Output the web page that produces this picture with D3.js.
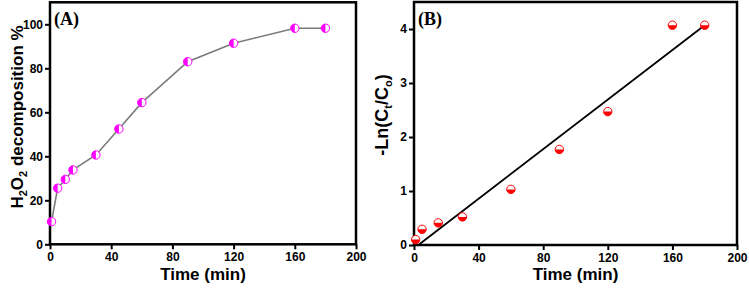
<!DOCTYPE html>
<html lang="en">
<head>
<meta charset="UTF-8">
<title>H2O2 decomposition and kinetics</title>
<script src="https://d3js.org/d3.v7.min.js"></script>
<style>
    body { margin: 0; background: #fff; }
    svg { display: block; font-family: "Liberation Sans", Arial, sans-serif; }
    .tick text { font-family: "Liberation Sans", Arial, sans-serif; font-size: 12px; font-weight: bold; fill: #000; }
    .tick line { stroke: #000; stroke-width: 2; }
    .axis-title { font-family: "Liberation Sans", Arial, sans-serif; font-size: 17px; font-weight: bold; }
    .panel-tag { font-family: "Liberation Serif", "Times New Roman", serif; font-size: 18px; font-weight: bold; }
</style>
</head>
<body>
<svg id="chart" width="749" height="291"></svg>
<script>
// time points (min)
const timeA = [1, 5, 10, 15, 30, 45, 60, 90, 120, 160, 180];
const decompA = [10.3, 25.5, 29.5, 33.8, 40.6, 52.4, 64.4, 83.0, 91.4, 98.2, 98.2];

const timeB = [1, 5, 15, 30, 60, 90, 120, 160, 180];
const lnB = [0.1, 0.29, 0.41, 0.52, 1.03, 1.77, 2.47, 4.07, 4.07];

// linear fit of panel B
const fitSlope = 0.02296;
const fitIntercept = -0.062;

const xTicks = [0, 40, 80, 120, 160, 200];
const yTicksA = [0, 20, 40, 60, 80, 100];
const yTicksB = [0, 1, 2, 3, 4];

const svg = d3.select("#chart");

function halfMarker(g, cx, cy, r, color, side) {
    // side: "left" -> left half filled, "bottom" -> bottom half filled
    g.append("circle").attr("cx", cx).attr("cy", cy).attr("r", r)
        .attr("fill", "#fff").attr("stroke", color).attr("stroke-width", 1);
    let path;
    if (side === "left") {
        path = `M${cx},${cy - r} A${r},${r} 0 0 0 ${cx},${cy + r} Z`;
    } else {
        path = `M${cx - r},${cy} A${r},${r} 0 0 0 ${cx + r},${cy} Z`;
    }
    g.append("path").attr("d", path).attr("fill", color);
}

function panel(opt) {
    const g = svg.append("g");
    const x = d3.scaleLinear().domain([0, 200]).range([opt.left, opt.right]);
    const y = d3.scaleLinear().domain(opt.yDomain).range([opt.bottom, opt.top]);

    const xAxis = g.append("g").attr("transform", `translate(0,${opt.bottom})`)
        .call(d3.axisBottom(x).tickValues(xTicks).tickSize(5).tickPadding(3).tickFormat(d3.format("d")));
    xAxis.select(".domain").remove();

    const yAxis = g.append("g").attr("transform", `translate(${opt.left},0)`)
        .call(d3.axisLeft(y).tickValues(opt.yTicks).tickSize(5).tickPadding(2).tickFormat(d3.format("d")));
    yAxis.select(".domain").remove();

    g.append("rect")
        .attr("x", opt.left).attr("y", opt.top)
        .attr("width", opt.right - opt.left).attr("height", opt.bottom - opt.top)
        .attr("fill", "none").attr("stroke", "#000").attr("stroke-width", 2.5);

    g.append("text").attr("class", "axis-title")
        .attr("x", (opt.left + opt.right) / 2).attr("y", 280)
        .attr("text-anchor", "middle").text("Time (min)");

    g.append("text").attr("class", "panel-tag")
        .attr("x", opt.left + 4).attr("y", 25).text(opt.tag);

    return {g, x, y};
}

// Panel A
const A = panel({left: 50, right: 356, top: 2.3, bottom: 244.3, yDomain: [0, 110], yTicks: yTicksA, tag: "(A)"});
const lineA = d3.line().x((d, i) => A.x(timeA[i])).y(d => A.y(d));
A.g.append("path").datum(decompA).attr("d", lineA)
    .attr("fill", "none").attr("stroke", "#7a7a7a").attr("stroke-width", 1.6);
decompA.forEach((v, i) => halfMarker(A.g, A.x(timeA[i]), A.y(v), 4.2, "#ff00ff", "left"));

const yTitleA = A.g.append("text").attr("class", "axis-title")
    .attr("transform", "translate(23,117) rotate(-90)")
    .attr("text-anchor", "middle");
yTitleA.append("tspan").text("H");
yTitleA.append("tspan").attr("font-size", 11).attr("dy", 4).text("2");
yTitleA.append("tspan").attr("dy", -4).text("O");
yTitleA.append("tspan").attr("font-size", 11).attr("dy", 4).text("2");
yTitleA.append("tspan").attr("dy", -4).text(" decomposition %");

// Panel B
const B = panel({left: 414, right: 737, top: 2, bottom: 245, yDomain: [0, 4.5], yTicks: yTicksB, tag: "(B)"});
const x0 = -fitIntercept / fitSlope;
B.g.append("line")
    .attr("x1", B.x(x0)).attr("y1", B.y(0))
    .attr("x2", B.x(180)).attr("y2", B.y(fitSlope * 180 + fitIntercept))
    .attr("stroke", "#000").attr("stroke-width", 1.8);
lnB.forEach((v, i) => halfMarker(B.g, B.x(timeB[i]), B.y(v), 4.2, "#ff0000", "bottom"));

const yTitleB = B.g.append("text").attr("class", "axis-title")
    .attr("transform", "translate(388,115) rotate(-90)")
    .attr("text-anchor", "middle").style("font-size", "18px");
yTitleB.append("tspan").text("-Ln(C");
yTitleB.append("tspan").attr("font-size", 11).attr("dy", 4).text("t");
yTitleB.append("tspan").attr("dy", -4).text("/C");
yTitleB.append("tspan").attr("font-size", 11).attr("dy", 4).text("o");
yTitleB.append("tspan").attr("dy", -4).text(")");
</script>
</body>
</html>
